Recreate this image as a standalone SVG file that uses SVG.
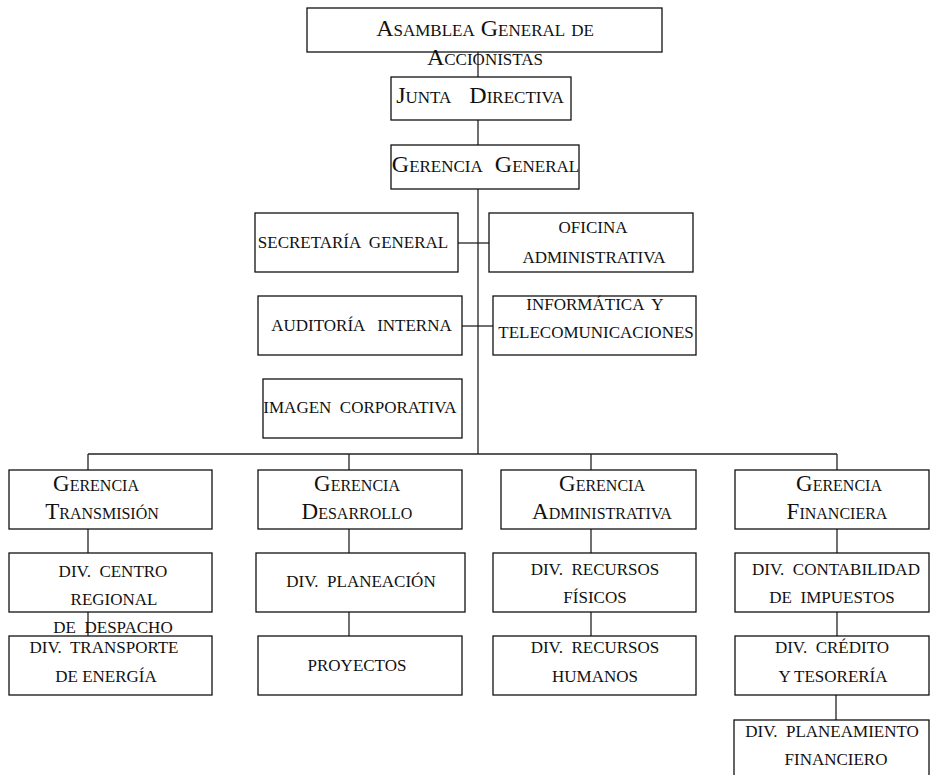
<svg xmlns="http://www.w3.org/2000/svg" width="931" height="775" viewBox="0 0 931 775">
<style>
rect{fill:#fff;stroke:#111;stroke-width:1.3}
.c line{stroke:#222;stroke-width:1.3}
text{font-family:"Liberation Serif","Times New Roman",serif;fill:#111;text-anchor:middle}
.sc{font-variant:small-caps;font-size:23px}
.top{font-variant:small-caps;font-size:24px}
.u{font-size:17px}
</style>
<rect x="0" y="0" width="931" height="775" style="fill:#fff;stroke:none"/>
<g class="c" id="connectors">
<line x1="478" y1="52" x2="478" y2="77"/>
<line x1="478" y1="120" x2="478" y2="145"/>
<line x1="478" y1="189" x2="478" y2="454"/>
<line x1="458" y1="243" x2="489" y2="243"/>
<line x1="462" y1="326" x2="493" y2="326"/>
<line x1="88" y1="454" x2="837" y2="454"/>
<line x1="88" y1="454" x2="88" y2="470"/>
<line x1="349" y1="454" x2="349" y2="470"/>
<line x1="591" y1="454" x2="591" y2="470"/>
<line x1="837" y1="454" x2="837" y2="470"/>
<line x1="88" y1="529" x2="88" y2="553"/>
<line x1="88" y1="612" x2="88" y2="636"/>
<line x1="349" y1="529" x2="349" y2="553"/>
<line x1="349" y1="612" x2="349" y2="636"/>
<line x1="591" y1="529" x2="591" y2="553"/>
<line x1="591" y1="612" x2="591" y2="636"/>
<line x1="837" y1="529" x2="837" y2="553"/>
<line x1="837" y1="612" x2="837" y2="636"/>
<line x1="836" y1="695" x2="836" y2="720"/>
</g>
<g id="asamblea"><rect x="307" y="8" width="355" height="44"/><text class="top" x="485" y="36">Asamblea General de</text></g>
<g id="junta"><rect x="391" y="77" width="180" height="43"/><text class="top" x="480" y="103" xml:space="preserve" style="word-spacing:3px">Junta  Directiva</text></g>
<g id="gerencia-general"><rect x="391" y="145" width="188" height="44"/><text class="top" x="485.5" y="172" xml:space="preserve">Gerencia  General</text></g>
<g id="asamblea-l2"><text class="top" x="485" y="65">Accionistas</text></g>
<g id="secretaria"><rect x="255" y="213" width="203" height="59"/><text class="u" x="353" y="248" xml:space="preserve">SECRETARÍA  GENERAL</text></g>
<g id="oficina"><rect x="489" y="213" width="204" height="59"/><text class="u" x="593" y="233">OFICINA</text><text class="u" x="594" y="263">ADMINISTRATIVA</text></g>
<g id="auditoria"><rect x="258" y="296" width="204" height="59"/><text class="u" x="361.5" y="331" xml:space="preserve">AUDITORÍA   INTERNA</text></g>
<g id="informatica"><rect x="493" y="296" width="203" height="59"/><text class="u" x="595" y="310" xml:space="preserve">INFORMÁTICA  Y</text><text class="u" x="596" y="338">TELECOMUNICACIONES</text></g>
<g id="imagen"><rect x="263" y="379" width="199" height="59"/><text class="u" x="360" y="413" xml:space="preserve">IMAGEN  CORPORATIVA</text></g>
<g id="g-transmision"><rect x="9" y="470" width="203" height="59"/><text class="sc" x="96" y="491">Gerencia</text><text class="sc" x="102" y="519">Transmisión</text></g>
<g id="g-desarrollo"><rect x="258" y="470" width="204" height="59"/><text class="sc" x="357" y="491">Gerencia</text><text class="sc" x="357" y="519">Desarrollo</text></g>
<g id="g-administrativa"><rect x="501" y="470" width="195" height="59"/><text class="sc" x="602" y="491">Gerencia</text><text class="sc" x="602" y="519">Administrativa</text></g>
<g id="g-financiera"><rect x="735" y="470" width="194" height="59"/><text class="sc" x="839" y="491">Gerencia</text><text class="sc" x="837" y="519">Financiera</text></g>
<g id="d-centro"><rect x="9" y="553" width="203" height="59"/><text class="u" x="113" y="577" xml:space="preserve">DIV.  CENTRO</text><text class="u" x="114" y="605">REGIONAL</text></g>
<g id="d-planeacion"><rect x="256" y="553" width="209" height="59"/><text class="u" x="361" y="587" xml:space="preserve">DIV.  PLANEACIÓN</text></g>
<g id="d-fisicos"><rect x="493" y="553" width="203" height="59"/><text class="u" x="595" y="575" xml:space="preserve">DIV.  RECURSOS</text><text class="u" x="595" y="603">FÍSICOS</text></g>
<g id="d-contabilidad"><rect x="735" y="553" width="194" height="59"/><text class="u" x="836" y="575" xml:space="preserve">DIV.  CONTABILIDAD</text><text class="u" x="832" y="603" xml:space="preserve">DE  IMPUESTOS</text></g>
<g id="d-transporte"><rect x="9" y="636" width="203" height="59"/><text class="u" x="104" y="653" xml:space="preserve">DIV.  TRANSPORTE</text><text class="u" x="106" y="682">DE ENERGÍA</text></g>
<g id="d-centro-l3"><text class="u" x="113" y="633" xml:space="preserve">DE  DESPACHO</text></g>
<g id="proyectos"><rect x="258" y="636" width="204" height="59"/><text class="u" x="357" y="671">PROYECTOS</text></g>
<g id="d-humanos"><rect x="493" y="636" width="203" height="59"/><text class="u" x="595" y="653" xml:space="preserve">DIV.  RECURSOS</text><text class="u" x="595" y="682">HUMANOS</text></g>
<g id="d-credito"><rect x="735" y="636" width="194" height="59"/><text class="u" x="832" y="653" xml:space="preserve">DIV.  CRÉDITO</text><text class="u" x="833" y="682">Y TESORERÍA</text></g>
<g id="d-planeamiento"><rect x="734" y="720" width="195" height="70"/><text class="u" x="832" y="737" xml:space="preserve">DIV.  PLANEAMIENTO</text><text class="u" x="836" y="765">FINANCIERO</text></g>
</svg>
